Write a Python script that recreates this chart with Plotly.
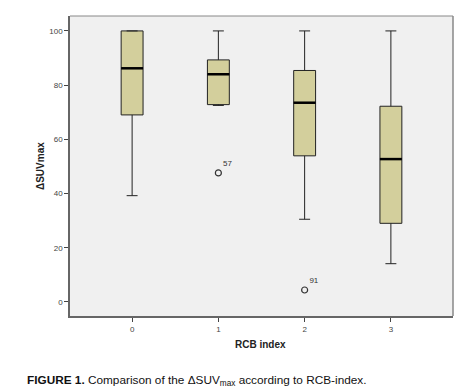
import plotly.graph_objects as go

categories = [0, 1, 2, 3]
tick_labels = ["0", "1", "2", "3"]
q1 = [69.0, 72.8, 53.9, 29.0]
median = [86.2, 84.0, 73.5, 52.7]
q3 = [100.0, 89.3, 85.4, 72.2]
lower_whisker = [39.2, 72.5, 30.5, 14.1]
upper_whisker = [100.0, 100.0, 100.0, 100.0]
outlier_x = [1, 2]
outlier_y = [47.6, 4.4]
outlier_labels = ["57", "91"]

box_fill = "#D3CF9C"
half = 0.127

fig = go.Figure()
fig.add_trace(go.Box(
    x=categories, q1=q1, median=median, q3=q3,
    lowerfence=lower_whisker, upperfence=upper_whisker,
    fillcolor=box_fill, line=dict(color="#222222", width=1),
    width=2 * half, whiskerwidth=0.5, boxpoints=False,
    hoverinfo="skip", showlegend=False,
))
# thick median lines
for c, m in zip(categories, median):
    fig.add_trace(go.Scatter(
        x=[c - half, c + half], y=[m, m], mode="lines",
        line=dict(color="#000000", width=2.5), showlegend=False, hoverinfo="skip",
    ))
fig.add_trace(go.Scatter(
    x=outlier_x, y=outlier_y, mode="markers+text",
    marker=dict(symbol="circle-open", size=6, color="#333333", line=dict(width=1.2)),
    text=outlier_labels, textposition="top right",
    textfont=dict(size=8, color="#333333", family="Liberation Sans, Arial"),
    showlegend=False, hoverinfo="skip",
))

fig.update_layout(
    width=469, height=390,
    margin=dict(l=70, r=16, t=16, b=74),
    paper_bgcolor="white", plot_bgcolor="#F0F0F0",
    font=dict(family="Liberation Sans, Arial", color="#333333"),
    xaxis=dict(
        range=[-0.72, 3.72], tickmode="array", tickvals=categories, ticktext=tick_labels,
        showgrid=False, zeroline=False, showline=True, linecolor="#666666", linewidth=2,
        mirror=False, ticks="outside", ticklen=4, tickcolor="#444444",
        tickfont=dict(size=8, color="#444444"),
    ),
    yaxis=dict(
        range=[-5.2, 105.5], tickmode="array", tickvals=[0, 20, 40, 60, 80, 100],
        showgrid=False, zeroline=False, showline=True, linecolor="#666666", linewidth=1.5,
        ticks="outside", ticklen=4, tickcolor="#444444",
        tickfont=dict(size=8, color="#444444"),
    ),
    shapes=[
        dict(type="line", xref="paper", yref="paper", x0=0, x1=1, y0=1, y1=1,
             line=dict(color="#888888", width=1)),
        dict(type="line", xref="paper", yref="paper", x0=1, x1=1, y0=0, y1=1,
             line=dict(color="#888888", width=1.5)),
    ],
    annotations=[
        dict(text="<b>ΔSUVmax</b>", xref="paper", yref="paper",
             x=(40 - 70) / 383, y=0.5, xanchor="center", yanchor="middle", textangle=-90,
             showarrow=False, font=dict(size=10, color="#222222")),
        dict(text="<b>RCB index</b>", xref="paper", yref="paper",
             x=(260 - 70) / 383, y=(316 - 344) / 300, xanchor="center", yanchor="middle",
             showarrow=False, font=dict(size=10, color="#222222")),
        dict(text="<b>FIGURE 1.</b> Comparison of the ΔSUV<sub>max</sub> according to RCB-index.",
             xref="paper", yref="paper", x=-45 / 383, y=-64 / 300, xanchor="left", yanchor="middle",
             showarrow=False, font=dict(size=11.8, color="#111111", family="Liberation Sans, Arial")),
    ],
)

fig.write_html("out.html", config={"displayModeBar": False},
               post_script="document.body.style.margin='0';document.body.style.overflow='hidden';")
